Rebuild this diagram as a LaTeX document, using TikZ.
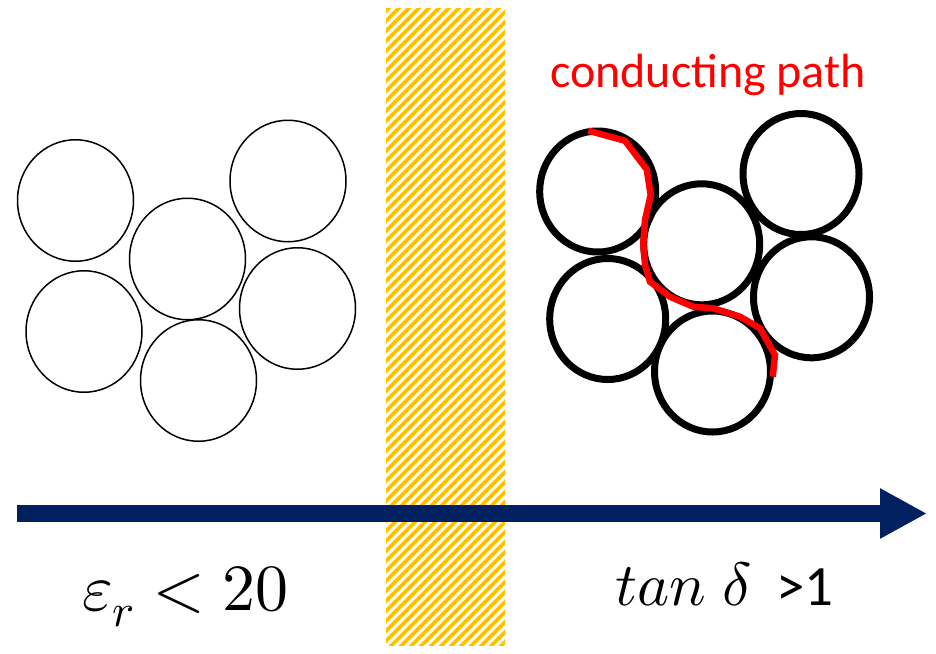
\documentclass[tikz,border=0pt]{standalone}
\usepackage{fontspec}
\usepackage{unicode-math}
\setmathfont{Latin Modern Math}
\newfontfamily\carlito[Numbers=Lining]{Carlito}
\usetikzlibrary{shapes.geometric,arrows.meta}
\definecolor{gold}{HTML}{FFC000}
\definecolor{navy}{HTML}{002060}
\definecolor{pathred}{HTML}{FF0000}
\tikzset{
  particle/.style={ellipse, draw=black, line width=1.5pt, minimum width=116pt, minimum height=121.5pt, inner sep=0pt},
  thickparticle/.style={particle, line width=7pt, minimum width=116pt, minimum height=121pt},
  stripe/.style={gold, line width=3.6pt},
  txt/.style={inner sep=0pt, anchor=base west}
}
\begin{document}
\begin{tikzpicture}[x=1pt, y=-1pt]
\useasboundingbox (0,0) rectangle (936,653);
% hatched band
\begin{scope}
  \clip (386,8) rectangle (505,645);
  \foreach \k in {0,...,80} {
    \draw[stripe] ({-278+\k*10},665) -- ++(670,-670);
  }
\end{scope}
% left particles
\node[particle] (L1) at (75.5,200.5) {};
\node[particle] (L2) at (288,181) {};
\node[particle] (L3) at (187.5,259) {};
\node[particle] (L4) at (84,331.5) {};
\node[particle] (L5) at (198.5,380.5) {};
\node[particle] (L6) at (297.5,308.5) {};
% right particles
\node[thickparticle] (R1) at (597.7,191.5) {};
\node[thickparticle] (R2) at (801,174) {};
\node[thickparticle] (R3) at (701.7,244.3) {};
\node[thickparticle] (R4) at (607.7,319) {};
\node[thickparticle] (R5) at (712.5,371.5) {};
\node[thickparticle] (R6) at (811.5,297.3) {};
% conducting path
\draw[pathred, line width=6.5pt] (588.3,130.7) -- (625,140.7) -- (646.7,169.3) -- (650.7,195) -- (645,220) -- (643.3,243.3) -- (645,265) -- (650,281.7) -- (670,296.7) -- (693.3,306.7) -- (713.3,308.3) -- (740,316.7) -- (760,328.3) -- (775,355) -- (772.7,376.7);
\node[txt, text=pathred, font=\carlito\fontsize{48}{56}\selectfont] (cp) at (550,87.3) {conducting path};
% arrow
\coordinate (arrS) at (17,513.5);
\coordinate (arrE) at (927,513.5);
\draw[navy, line width=16.5pt, -{Triangle[length=47pt, width=47pt]}] (arrS) -- (arrE);
% labels
\node[txt, font=\fontsize{66}{72}\selectfont] (eps) at (82,610) {$\varepsilon_r<20$};
\node[txt, font=\fontsize{61}{68}\selectfont] (tan) at (615,605) {$tan\;\delta$};
\node[txt, font=\carlito\fontsize{57}{64}\selectfont] (gt) at (776,605) {>1};
\end{tikzpicture}
\end{document}
